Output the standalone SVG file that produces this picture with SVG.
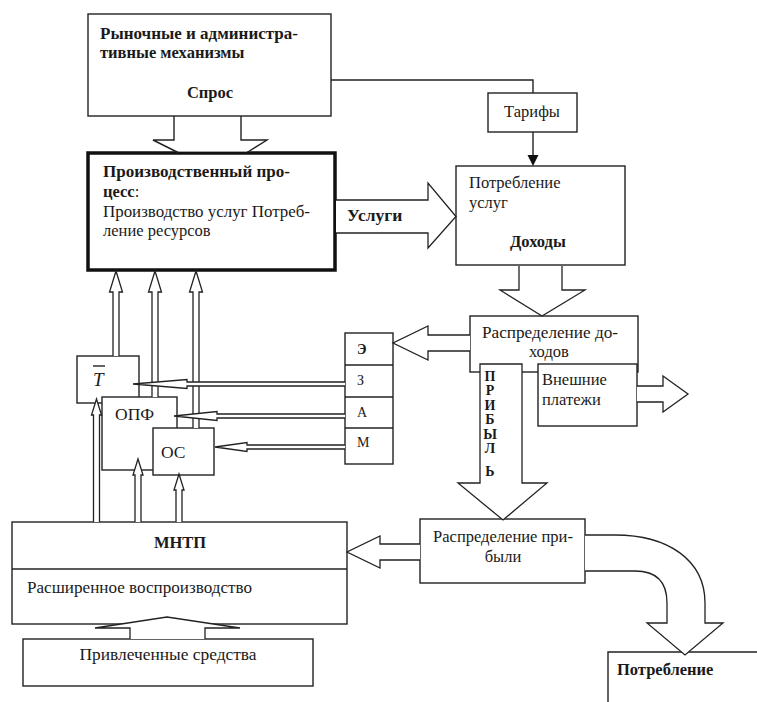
<svg xmlns="http://www.w3.org/2000/svg" width="757" height="702" viewBox="0 0 757 702">
<style>
.box{fill:#fff;stroke:#222;stroke-width:1.4}
.thick{fill:#fff;stroke:#111;stroke-width:3.5}
.ln{fill:none;stroke:#222;stroke-width:1.4}
.arr{fill:#fff;stroke:#222;stroke-width:1.3;stroke-linejoin:miter}
text{font-family:"Liberation Serif","Times New Roman",serif;font-size:16.5px;fill:#1a1a1a}
.b{font-weight:bold}
.c{text-anchor:middle}
.s{font-size:14px}
.v{font-size:14px;font-weight:bold;text-anchor:middle}
</style>
<rect width="757" height="702" fill="#fff"/>

<g id="node-markets">
<rect class="box" x="88" y="14" width="243" height="102"/>
<text class="b" x="100" y="39" textLength="198" lengthAdjust="spacingAndGlyphs">Рыночные и администра-</text>
<text class="b" x="100" y="58">тивные механизмы</text>
<text class="b c" x="210" y="98">Спрос</text>
</g>

<g id="node-process">
<rect class="thick" x="88" y="153" width="247" height="117"/>
<text x="103" y="177" class="b" textLength="187" lengthAdjust="spacingAndGlyphs">Производственный про-</text>
<text x="103" y="197"><tspan class="b">цесс</tspan>:</text>
<text x="103" y="217" textLength="207" lengthAdjust="spacingAndGlyphs">Производство услуг Потреб-</text>
<text x="103" y="236">ление ресурсов</text>
</g>

<g id="node-tariffs">
<rect class="box" x="488" y="93" width="89" height="39"/>
<text class="c" x="532" y="117">Тарифы</text>
</g>

<g id="node-consumption">
<rect class="box" x="456" y="166" width="169" height="99"/>
<text x="469" y="188">Потребление</text>
<text x="469" y="208">услуг</text>
<text class="b" x="510" y="247">Доходы</text>
</g>

<g id="node-income-dist">
<rect class="box" x="470" y="316" width="168" height="56"/>
<text x="482" y="338" textLength="136" lengthAdjust="spacingAndGlyphs">Распределение до-</text>
<text x="529" y="357">ходов</text>
</g>

<g id="node-external">
<rect class="box" x="538" y="364" width="99" height="62"/>
<text x="542" y="385">Внешние</text>
<text x="542" y="405">платежи</text>
</g>

<g id="node-ezam">
<rect class="box" x="345" y="333" width="48" height="131"/>
<line class="ln" x1="345" y1="365" x2="393" y2="365"/>
<line class="ln" x1="345" y1="397" x2="393" y2="397"/>
<line class="ln" x1="345" y1="428" x2="393" y2="428"/>
<text class="s b" x="357" y="354">Э</text>
<text class="s" x="357" y="385">З</text>
<text class="s" x="357" y="417">А</text>
<text class="s" x="357" y="447">М</text>
</g>

<g id="node-T">
<rect class="box" x="77" y="356" width="62" height="47"/>
<text x="93" y="386" style="font-size:19px;font-style:italic">T</text>
<line x1="93" y1="366" x2="105" y2="366" stroke="#222" stroke-width="1.4"/>
</g>

<g id="node-opf">
<rect class="box" x="102" y="397" width="75" height="73"/>
<text x="115" y="420" style="font-size:17.5px">ОПФ</text>
</g>

<g id="node-os">
<rect class="box" x="153" y="428" width="61" height="47"/>
<text x="161" y="458" style="font-size:17.5px">ОС</text>
</g>

<g id="node-mntp">
<rect class="box" x="12" y="522" width="335" height="102"/>
<line class="ln" x1="12" y1="569" x2="347" y2="569"/>
<text class="b c" x="180" y="548">МНТП</text>
<text x="27" y="593" textLength="225" lengthAdjust="spacingAndGlyphs">Расширенное воспроизводство</text>
</g>

<g id="node-attracted">
<rect class="box" x="23" y="639" width="290" height="47"/>
<text class="c" x="168" y="660" textLength="177" lengthAdjust="spacingAndGlyphs">Привлеченные средства</text>
</g>

<g id="node-profit-dist">
<rect class="box" x="420" y="519" width="165" height="64"/>
<text class="c" x="503" y="542">Распределение при-</text>
<text class="c" x="503" y="562">были</text>
</g>

<g id="node-final-consumption">
<path class="box" d="M608,702 V652 H757"/>
<text class="b" x="617" y="675">Потребление</text>
</g>

<g id="connectors">
<!-- Спрос arrow -->
<polygon points="174,117 174,140 153,140 178,151.5 247,151.5 267,140 241,140 241,117" fill="#fff" stroke="none"/>
<path class="ln" d="M174,116 V140 H153 L178,152.5 M247,152.5 L267,140 H241 V116"/>
<!-- tariffs line -->
<path class="ln" d="M331,80 H533 V93"/>
<line class="ln" x1="533" y1="132" x2="533" y2="157"/>
<polygon points="527.5,155 538.5,155 533,166" fill="#111"/>
<!-- Услуги -->
<path class="arr" d="M336,200 H428 V183 L456,216.5 L428,248 V233 H336"/>
<text class="b" x="347" y="221" style="font-size:17.5px">Услуги</text>
<!-- Доходы down -->
<path class="arr" d="M519,266 V290 H500 L542,316 L585,290 H562 V266"/>
<!-- to Э -->
<path class="arr" d="M470,335 H428 V326 L393,343 L428,360 V351 H470"/>
<!-- ПРИБЫЛЬ -->
<path class="arr" d="M480,483 V364 H522 V483 H547 L503,520 L458,483 Z"/>
<text class="v" x="490" y="381">П</text>
<text class="v" x="490" y="395">Р</text>
<text class="v" x="490" y="410">И</text>
<text class="v" x="490" y="424">Б</text>
<text class="v" x="490" y="439">Ы</text>
<text class="v" x="490" y="453">Л</text>
<text class="v" x="490" y="476">Ь</text>
<!-- Внешние платежи out -->
<path class="arr" d="M637,386 H663 V376 L688,394 L663,412 V402 H637"/>
<!-- up arrows to process -->
<path class="arr" d="M113,356 V292 H109.5 L116,271 L122.5,292 H119 V356"/>
<path class="arr" d="M152,397 V292 H148.5 L155,271 L161.5,292 H158 V397"/>
<path class="arr" d="M193,428 V292 H189.5 L196,271 L202.5,292 H199 V428"/>
<!-- horizontal arrows from З А М -->
<path class="arr" d="M345,382 H187 V379.5 L133,384 L187,388.5 V386 H345"/>
<path class="arr" d="M345,414 H217 V411.5 L174,416 L217,420.5 V418 H345"/>
<path class="arr" d="M345,445 H247 V442.5 L215,447 L247,451.5 V449 H345"/>
<!-- up arrows from МНТП -->
<path class="arr" d="M93.5,522 V415 H91.5 L96.5,399 L101.5,415 H99.5 V522"/>
<path class="arr" d="M135,522 V475 H133 L138,459 L143,475 H141 V522"/>
<path class="arr" d="M176,522 V490 H174 L179,474 L184,490 H182 V522"/>
<!-- Привлеченные средства up -->
<path class="arr" d="M130,639 V628 H95 L167,617 L240,628 H205 V639"/>
<!-- Распределение прибыли -> МНТП -->
<path class="arr" d="M420,544 H380 V536 L347,552 L380,568 V560 H420"/>
<!-- curved arrow to Потребление -->
<path class="arr" d="M585,535 H615 C668,535 705,560 705,603 V623 H723 L685,655 L647,623 H667 V603 C667,582 656,571 635,571 H585"/>
</g>
</svg>
